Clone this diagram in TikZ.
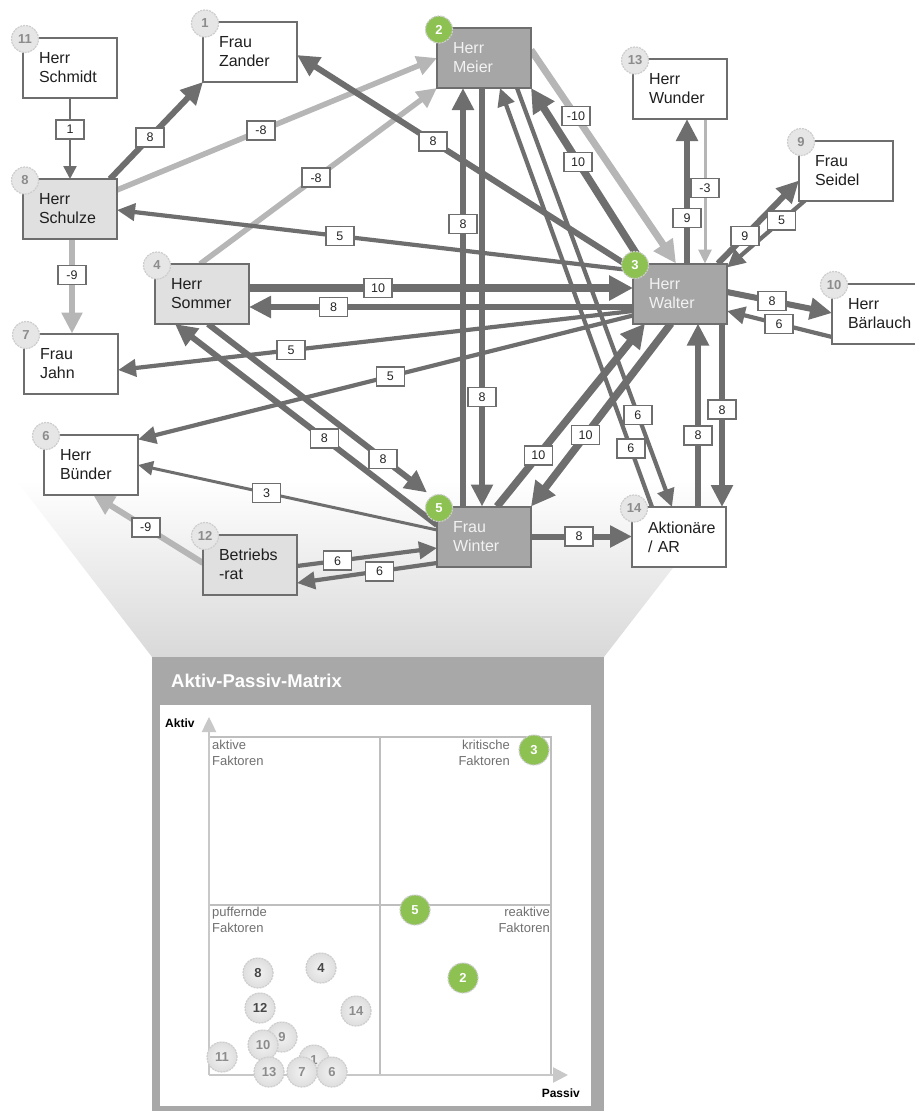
\documentclass[tikz,border=0pt]{standalone}
\usepackage{fontspec}
\setmainfont{Liberation Sans}
\usetikzlibrary{arrows.meta,calc}
\definecolor{edgedark}{RGB}{110,110,110}
\definecolor{edgelight}{RGB}{182,182,182}
\definecolor{nodedark}{RGB}{166,166,166}
\definecolor{nodelight}{RGB}{224,224,224}
\definecolor{panelgray}{RGB}{168,168,168}
\definecolor{gridgray}{RGB}{190,190,190}
\definecolor{axisgray}{RGB}{200,200,200}
\definecolor{badgegreen}{RGB}{141,193,82}
\definecolor{badgefill}{RGB}{230,230,230}
\definecolor{badgeline}{RGB}{205,205,205}
\definecolor{badgetext}{RGB}{140,140,140}
\definecolor{quadtext}{RGB}{112,112,112}
\pgfdeclarelayer{bg}
\pgfdeclarelayer{edges}
\pgfdeclarelayer{lbls}
\pgfsetlayers{bg,edges,lbls,main}
\tikzset{
  box/.style={draw=edgedark, line width=2pt, minimum width=94pt, minimum height=60pt,
    inner sep=0pt, outer sep=0pt, text width=62pt, align=left,
    font=\fontsize{16}{19}\selectfont, text=black!88},
  wbox/.style={box, fill=white},
  lbox/.style={box, fill=nodelight},
  dbox/.style={box, fill=nodedark, text=white!95!black},
  badge/.style={circle, minimum size=27pt, inner sep=0pt, fill=badgefill, draw=badgeline,
    line width=1.2pt, dash pattern=on 2pt off 1pt, text=badgetext,
    font=\fontsize{13}{13}\selectfont\bfseries},
  gbadge/.style={badge, fill=badgegreen, text=white},
  mbadge/.style={badge, minimum size=30pt, inner color=white!95!black, outer color=black!13},
  mdark/.style={mbadge, text=black!72},
  mgreen/.style={badge, minimum size=30pt, fill=badgegreen, text=white},
  lbl/.style={draw=edgedark, line width=1.6pt, fill=white, minimum width=28pt,
    minimum height=19pt, inner sep=0pt, font=\fontsize{12.5}{12.5}\selectfont, text=black!85},
  ed/.style={draw=edgedark, line cap=butt},
  el/.style={draw=edgelight, line cap=butt},
  t1/.style={line width=2.5pt, -{Triangle[length=13pt,width=13pt]}},
  t3/.style={line width=3pt, -{Triangle[length=15pt,width=14pt]}},
  t5/.style={line width=4.2pt, -{Triangle[length=18pt,width=17pt]}},
  t8/.style={line width=6pt, -{Triangle[length=22pt,width=21pt]}},
  t10/.style={line width=7.5pt, -{Triangle[length=24pt,width=24pt]}},
  lt3/.style={line width=3pt, -{Triangle[length=14pt,width=13pt]}},
  lt8/.style={line width=5.5pt, -{Triangle[length=20pt,width=19pt]}},
  lt9/.style={line width=6pt, -{Triangle[length=21pt,width=20pt]}},
  lt10/.style={line width=7pt, -{Triangle[length=23pt,width=22pt]}},
  quad/.style={inner sep=0pt, font=\fontsize{13}{16}\selectfont, text=quadtext},
  axlbl/.style={inner sep=0pt, font=\fontsize{12}{12}\selectfont\bfseries, text=black},
}
\begin{document}
\begin{tikzpicture}[x=1pt,y=-1pt]
\useasboundingbox (0,0) rectangle (915,1111);
% background funnel and matrix panel
\begin{pgfonlayer}{bg}
\shade[top color=white, middle color=white, bottom color=black!15] (16,480) -- (741,480) -- (604,657) -- (152,657) -- cycle;
\fill[panelgray] (152,657) rectangle (604,1111);
\fill[white] (160,705) rectangle (591,1106);
\end{pgfonlayer}
% network nodes
\node[wbox] (schmidt) at (70,67.5) {Herr\\Schmidt};
\node[wbox] (zander) at (250,52) {Frau\\Zander};
\node[dbox] (meier) at (484,58) {Herr\\Meier};
\node[wbox] (wunder) at (680,89) {Herr\\Wunder};
\node[wbox] (seidel) at (846,170.5) {Frau\\Seidel};
\node[lbox] (schulze) at (70,209) {Herr\\Schulze};
\node[lbox] (sommer) at (202,294) {Herr\\Sommer};
\node[dbox] (walter) at (680,293.5) {Herr\\Walter};
\node[wbox] (baerlauch) at (879,313.5) {Herr\\Bärlauch};
\node[wbox] (jahn) at (71,363.5) {Frau\\Jahn};
\node[wbox] (buender) at (91,464.5) {Herr\\Bünder};
\node[lbox] (betriebsrat) at (250,564.5) {Betriebs\\-rat};
\node[dbox] (winter) at (484,536.5) {Frau\\Winter};
\node[wbox] (aktionaere) at (679,537) {Aktionäre\\/ AR};
% badges
\node[badge] (b11) at ($(schmidt.north west)+(2,1.5)$) {11};
\node[badge] (b1) at ($(zander.north west)+(2,1.5)$) {1};
\node[gbadge] (b2) at ($(meier.north west)+(2,1.5)$) {2};
\node[badge] (b13) at ($(wunder.north west)+(2,1.5)$) {13};
\node[badge] (b9) at ($(seidel.north west)+(2,1.5)$) {9};
\node[badge] (b8) at ($(schulze.north west)+(2,1.5)$) {8};
\node[badge] (b4) at ($(sommer.north west)+(2,1.5)$) {4};
\node[gbadge] (b3) at ($(walter.north west)+(2,1.5)$) {3};
\node[badge] (b10) at ($(baerlauch.north west)+(2,1.5)$) {10};
\node[badge] (b7) at ($(jahn.north west)+(2,1.5)$) {7};
\node[badge] (b6) at ($(buender.north west)+(2,1.5)$) {6};
\node[badge] (b12) at ($(betriebsrat.north west)+(2,1.5)$) {12};
\node[gbadge] (b5) at ($(winter.north west)+(2,1.5)$) {5};
\node[badge] (b14) at ($(aktionaere.north west)+(2,1.5)$) {14};
% connectors
\begin{pgfonlayer}{edges}
\draw[ed,t1] (schmidt.south) -- coordinate[pos=0.39](l1) (schulze.north);
\draw[ed,t8] ($(schulze.north west)+(87,0)$) -- coordinate[pos=0.43](l2) (zander.south west);
\draw[el,lt8] ($(schulze.north west)+(94,11)$) -- coordinate[pos=0.45](l3) (meier.west);
\draw[el,lt8] ($(sommer.north west)+(45,0)$) -- coordinate[pos=0.49](l4) (meier.south west);
\draw[ed,t8] ($(walter.north west)+(0,5.5)$) -- coordinate[pos=0.595](l5) ($(zander.north west)+(94,33)$);
\draw[ed,t5] ($(walter.north west)+(0,7)$) -- coordinate[pos=0.568](l6) ($(schulze.north west)+(94,31)$);
\draw[ed,t10] ($(sommer.north west)+(94,24)$) -- coordinate[pos=0.336](l7) ($(walter.north west)+(0,24.5)$);
\draw[ed,t8] ($(walter.north west)+(0,43.5)$) -- coordinate[pos=0.78](l8) ($(sommer.north west)+(94,43)$);
\draw[ed,t5] ($(walter.north west)+(0,47.5)$) -- coordinate[pos=0.664](l9) ($(jahn.north west)+(94,36.5)$);
\draw[ed,t5] ($(walter.north west)+(0,52)$) -- coordinate[pos=0.49](l10) ($(buender.north west)+(94,5)$);
\draw[ed,t8] ($(meier.north west)+(45,60)$) -- coordinate[pos=0.738](l11) ($(winter.north west)+(45,0)$);
\draw[ed,t8] ($(winter.north west)+(26,0)$) -- coordinate[pos=0.675](l12) ($(meier.north west)+(26,60)$);
\draw[ed,t10] ($(walter.north west)+(9.5,0)$) -- coordinate[pos=0.578](l13) (meier.south east);
\draw[el,lt10] ($(meier.north west)+(94,22)$) -- coordinate[pos=0.31](l14) ($(walter.north west)+(43,0)$);
\draw[ed,t8] ($(walter.north west)+(54,0)$) -- coordinate[pos=0.315](l15) ($(wunder.north west)+(54,60)$);
\draw[el,lt3] ($(wunder.north west)+(72,60)$) -- coordinate[pos=0.478](l16) ($(walter.north west)+(72,0)$);
\draw[ed,t8] ($(walter.north west)+(85,0)$) -- coordinate[pos=0.33](l17) ($(seidel.north west)+(0,40)$);
\draw[ed,t5] ($(seidel.north west)+(6,60)$) -- coordinate[pos=0.3](l18) ($(walter.north east)+(0,4)$);
\draw[ed,t8] ($(walter.north west)+(94,28.5)$) -- coordinate[pos=0.43](l19) ($(baerlauch.north west)+(0,29.5)$);
\draw[ed,t5] ($(baerlauch.north west)+(0,53.5)$) -- coordinate[pos=0.505](l20) ($(walter.north west)+(94,47.5)$);
\draw[ed,t8] ($(sommer.north west)+(53,60)$) -- coordinate[pos=0.8](l21) ($(winter.north west)+(-10,-14)$);
\draw[ed,t8] ($(winter.north west)+(0,18.5)$) -- coordinate[pos=0.43](l22) ($(sommer.north west)+(20,60)$);
\draw[ed,t3] ($(winter.north west)+(0,23.5)$) -- coordinate[pos=0.57](l23) ($(buender.north west)+(94,30.5)$);
\draw[el,lt9] ($(betriebsrat.north west)+(0,28.5)$) -- coordinate[pos=0.52](l24) ($(buender.north west)+(49,60)$);
\draw[ed,t5] ($(betriebsrat.north west)+(94,31.5)$) -- coordinate[pos=0.29](l25) ($(winter.north west)+(0,41.5)$);
\draw[ed,t5] ($(winter.north west)+(0,56.5)$) -- coordinate[pos=0.41](l26) ($(betriebsrat.north west)+(94,48.5)$);
\draw[ed,t8] (winter.east) -- coordinate[pos=0.475](l27) (winter.east -| aktionaere.west);
\draw[ed,t10] ($(winter.north west)+(60,0)$) -- coordinate[pos=0.28](l28) ($(walter.north west)+(12,60)$);
\draw[ed,t10] ($(walter.north west)+(38,60)$) -- coordinate[pos=0.61](l29) (winter.north east);
\draw[ed,t8] ($(aktionaere.north west)+(66,0)$) -- coordinate[pos=0.39](l30) ($(walter.north west)+(65,60)$);
\draw[ed,t8] ($(walter.north west)+(89,60)$) -- coordinate[pos=0.47](l31) ($(aktionaere.north west)+(90,0)$);
\draw[ed,t5] ($(meier.north west)+(80,60)$) -- coordinate[pos=0.78](l32) ($(aktionaere.north west)+(40,0)$);
\draw[ed,t5] ($(aktionaere.north west)+(20,0)$) -- coordinate[pos=0.14](l33) ($(meier.north west)+(63,60)$);
\draw[el,lt9] ($(schulze.north west)+(49,60)$) -- coordinate[pos=0.38](l34) ($(jahn.north west)+(48,0)$);
\end{pgfonlayer}
% connector labels
\begin{pgfonlayer}{lbls}
\node[lbl] (n1) at (l1) {1};
\node[lbl] (n2) at (l2) {8};
\node[lbl] (n3) at (l3) {-8};
\node[lbl] (n4) at (l4) {-8};
\node[lbl] (n5) at (l5) {8};
\node[lbl] (n6) at (l6) {5};
\node[lbl] (n7) at (l7) {10};
\node[lbl] (n8) at (l8) {8};
\node[lbl] (n9) at (l9) {5};
\node[lbl] (n10) at (l10) {5};
\node[lbl] (n11) at (l11) {8};
\node[lbl] (n12) at (l12) {8};
\node[lbl] (n13) at (l13) {10};
\node[lbl] (n14) at (l14) {-10};
\node[lbl] (n15) at (l15) {9};
\node[lbl] (n16) at (l16) {-3};
\node[lbl] (n17) at (l17) {9};
\node[lbl] (n18) at (l18) {5};
\node[lbl] (n19) at (l19) {8};
\node[lbl] (n20) at (l20) {6};
\node[lbl] (n21) at (l21) {8};
\node[lbl] (n22) at (l22) {8};
\node[lbl] (n23) at (l23) {3};
\node[lbl] (n24) at (l24) {-9};
\node[lbl] (n25) at (l25) {6};
\node[lbl] (n26) at (l26) {6};
\node[lbl] (n27) at (l27) {8};
\node[lbl] (n28) at (l28) {10};
\node[lbl] (n29) at (l29) {10};
\node[lbl] (n30) at (l30) {8};
\node[lbl] (n31) at (l31) {8};
\node[lbl] (n32) at (l32) {6};
\node[lbl] (n33) at (l33) {6};
\node[lbl] (n34) at (l34) {-9};
\end{pgfonlayer}
% matrix
\node[anchor=west, inner sep=0pt, text=white, font=\fontsize{18.5}{18.5}\selectfont\bfseries] (mtitle) at (171,681) {Aktiv-Passiv-Matrix};
\draw[gridgray, line width=2pt] (209,737) -- (551,737) -- (551,1075);
\draw[gridgray, line width=2pt] (380,737) -- (380,1075);
\draw[gridgray, line width=2pt] (209,905) -- (551,905);
\coordinate (origin) at (209,1075);
\coordinate (ytip) at (209,717);
\coordinate (xtip) at (568,1075);
\draw[axisgray, line width=2.5pt, -{Triangle[length=15pt,width=14pt]}] (origin) -- (ytip);
\draw[axisgray, line width=2.5pt, -{Triangle[length=15pt,width=15pt]}] (origin) -- (xtip);
\node[axlbl, anchor=west] (aktiv) at (165,723) {Aktiv};
\node[axlbl, anchor=east] (passiv) at (580,1093) {Passiv};
\node[quad, anchor=north west, align=left] (q1) at (212,740) {aktive\\Faktoren};
\node[quad, anchor=north east, align=right] (q2) at (510,740) {kritische\\Faktoren};
\node[quad, anchor=north west, align=left] (q3) at (212,907) {puffernde\\Faktoren};
\node[quad, anchor=north east, align=right] (q4) at (550,907) {reaktive\\Faktoren};
\node[mdark] (m8) at (258,973) {8};
\node[mdark] (m4) at (321,968) {4};
\node[mdark] (m12) at (260,1008) {12};
\node[mbadge] (m14) at (356,1011) {14};
\node[mbadge] (m9) at (282,1037) {9};
\node[mbadge] (m10) at (263,1045) {10};
\node[mbadge] (m11) at (222,1057) {11};
\node[mbadge] (m1) at (314,1060) {1};
\node[mbadge] (m13) at (269,1072) {13};
\node[mbadge] (m7) at (302,1072) {7};
\node[mbadge] (m6) at (332,1072) {6};
\node[mgreen] (m3) at (534,750) {3};
\node[mgreen] (m5) at (415,910) {5};
\node[mgreen] (m2) at (463,978) {2};
\end{tikzpicture}
\end{document}
